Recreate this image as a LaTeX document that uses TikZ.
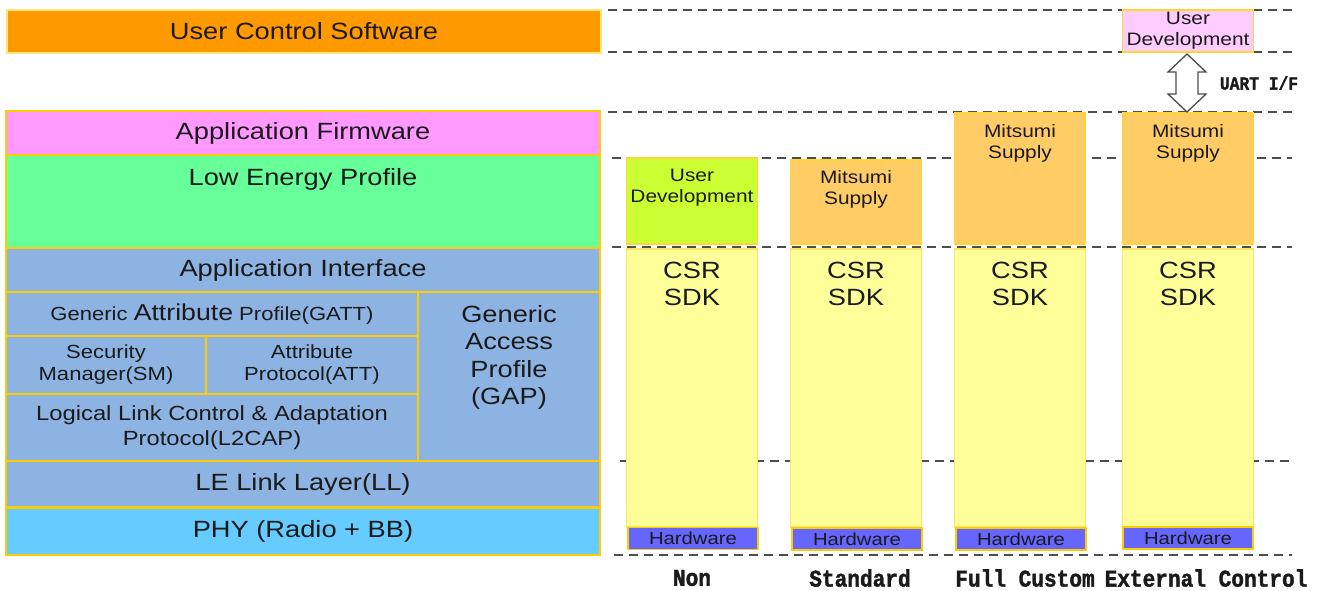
\documentclass[tikz,border=0pt]{standalone}
\usepackage{fontspec}
\setmainfont{Liberation Sans}[FakeStretch=1.16]
\newfontfamily\monob{Liberation Mono}[FakeStretch=0.88, BoldFeatures={FakeBold=1.5}]
\usetikzlibrary{calc}
\definecolor{orng}{HTML}{FF9900}
\definecolor{pinkfw}{HTML}{FF99FF}
\definecolor{grn}{HTML}{66FF99}
\definecolor{bluel}{HTML}{8DB3E2}
\definecolor{cyanl}{HTML}{66CCFF}
\definecolor{laybd}{HTML}{FFCC00}
\definecolor{lightbd}{HTML}{FFE680}
\definecolor{csry}{HTML}{FFFF99}
\definecolor{csrbd}{HTML}{FFE566}
\definecolor{mits}{HTML}{FFCC66}
\definecolor{udg}{HTML}{CCFF33}
\definecolor{hw}{HTML}{6666FF}
\definecolor{udp}{HTML}{FFCCFF}
\definecolor{dashg}{HTML}{4D4D4D}
\definecolor{txt}{HTML}{1A1A1A}
\newcommand\fbig{\fontsize{23.5}{27.5}\selectfont}
\newcommand\fsmall{\fontsize{18}{21}\selectfont}
\begin{document}
\begin{tikzpicture}[x=1pt,y=-1pt,
  every node/.style={inner sep=0pt, outer sep=0pt, text=txt},
  lay/.style={rectangle, draw=laybd, line width=1.5pt, minimum width=594pt, font=\fbig},
  subl/.style={rectangle, draw=laybd, line width=1.5pt, fill=bluel},
  colbox/.style={rectangle, draw=laybd!80!white, line width=1.3pt, minimum width=131pt},
  toptext/.style={anchor=north, align=center, font=\fsmall},
  hwbox/.style={rectangle, draw=laybd, line width=1.3pt, fill=hw, minimum width=130pt, minimum height=22pt, font=\fontsize{17.5}{20}\selectfont},
  guide/.style={draw=dashg, line width=2.4pt, dash pattern=on 9pt off 6pt},
  modelbl/.style={font=\monob\bfseries\fontsize{24}{26}\selectfont},
  dblarrow/.style={draw=dashg, line width=1.3pt, fill=white, line join=miter}]
\fill[white] (0,0) rectangle (1320,590);
\useasboundingbox (0,0) rectangle (1320,590);
% guide lines
\draw[guide] (608,10) -- (1292,10);
\draw[guide] (608,52) -- (1292,52);
\draw[guide] (608,112) -- (1292,112);
\draw[guide] (612,158) -- (1292,158);
\draw[guide] (612,247) -- (1292,247);
\draw[guide] (620,461) -- (1292,461);
\draw[guide] (614,555) -- (1292,555);
% left stack
\node[lay, fill=orng, draw=lightbd, minimum height=43pt] (ucs) at (304,31.5) {User Control Software};
\node[lay, fill=pinkfw, minimum height=44pt] (afw) at (303,133) {Application Firmware};
\node[lay, fill=grn, minimum height=93pt] (lep) at (303,201.5) {};
\node[anchor=north, font=\fbig] (lept) at ($(lep.north)+(0,13)$) {Low Energy Profile};
\node[lay, fill=bluel, minimum height=44pt] (ai) at (303,270) {Application Interface};
\node[subl, minimum width=412pt, minimum height=44pt] (gatt) at (212,314)
  {\fontsize{19}{22}\selectfont Generic {\fontsize{23}{26}\selectfont Attribute} Profile(GATT)};
\node[subl, minimum width=200pt, minimum height=58pt, align=center, font=\fontsize{19}{22}\selectfont] (sm) at (106,365) {Security\\Manager(SM)};
\node[subl, minimum width=212pt, minimum height=58pt, align=center, font=\fontsize{19}{22}\selectfont] (att) at (312,365) {Attribute\\Protocol(ATT)};
\node[subl, minimum width=412pt, minimum height=67pt, align=center, font=\fontsize{20.5}{25}\selectfont] (l2cap) at (212,427.5) {Logical Link Control \& Adaptation\\Protocol(L2CAP)};
\node[subl, minimum width=182pt, minimum height=169pt] (gap) at (509,376.5) {};
\node[anchor=north, align=center, font=\fbig] (gapt) at ($(gap.north)+(0,13)$) {Generic\\Access\\Profile\\(GAP)};
\node[lay, fill=bluel, minimum height=46pt] (ll) at (303,484) {LE Link Layer(LL)};
\node[lay, fill=cyanl, minimum height=47pt] (phy) at (303,531.5) {PHY (Radio + BB)};
% column 1: Non
\node[colbox, fill=udg, minimum height=86pt] (ud1) at (692,201) {};
\node[toptext] (ud1t) at ($(ud1.north)+(0,11)$) {User\\Development};
\node[colbox, fill=csry, draw=csrbd, minimum height=278pt] (csr1) at (692,388) {};
\node[toptext, font=\fbig] (csr1t) at ($(csr1.north)+(0,13)$) {CSR\\SDK};
\node[hwbox] (hw1) at (693,538.5) {Hardware};
% column 2: Standard
\node[colbox, fill=mits, minimum height=84pt] (ms2) at (856,202) {};
\node[toptext] (ms2t) at ($(ms2.north)+(0,10)$) {Mitsumi\\Supply};
\node[colbox, fill=csry, draw=csrbd, minimum height=278pt] (csr2) at (856,388) {};
\node[toptext, font=\fbig] (csr2t) at ($(csr2.north)+(0,13)$) {CSR\\SDK};
\node[hwbox] (hw2) at (857,539) {Hardware};
% column 3: Full Custom
\node[colbox, fill=mits, minimum height=131pt] (ms3) at (1020,178.5) {};
\node[toptext] (ms3t) at ($(ms3.north)+(0,11)$) {Mitsumi\\Supply};
\node[colbox, fill=csry, draw=csrbd, minimum height=278pt] (csr3) at (1020,388) {};
\node[toptext, font=\fbig] (csr3t) at ($(csr3.north)+(0,13)$) {CSR\\SDK};
\node[hwbox] (hw3) at (1021,539) {Hardware};
% column 4: External Control
\node[colbox, fill=udp, minimum height=42pt, align=center, font=\fsmall] (ud4) at (1188,31) {User\\Development};
\node[colbox, fill=mits, minimum height=131pt] (ms4) at (1188,178.5) {};
\node[toptext] (ms4t) at ($(ms4.north)+(0,11)$) {Mitsumi\\Supply};
\node[colbox, fill=csry, draw=csrbd, minimum height=278pt] (csr4) at (1188,388) {};
\node[toptext, font=\fbig] (csr4t) at ($(csr4.north)+(0,13)$) {CSR\\SDK};
\node[hwbox] (hw4) at (1188,538) {Hardware};
% UART double arrow between ud4 and ms4
\coordinate (AT) at ($(ud4.south)+(-1,2)$);
\coordinate (AB) at ($(ms4.north)+(-1,-1)$);
\draw[dblarrow] (AT) -- ($(AT)+(19,18)$) -- ($(AT)+(11,18)$) -- ($(AB)+(11,-18)$) -- ($(AB)+(19,-18)$)
  -- (AB) -- ($(AB)+(-19,-18)$) -- ($(AB)+(-11,-18)$) -- ($(AT)+(-11,18)$) -- ($(AT)+(-19,18)$) -- cycle;
\node[font=\monob\bfseries\fontsize{18.5}{20}\selectfont] (uart) at (1259,83) {UART I/F};
% mode labels
\node[modelbl] (m1) at (692,578) {Non};
\node[modelbl] (m2) at (860,578) {Standard};
\node[modelbl] (m3) at (1025,578) {Full Custom};
\node[modelbl] (m4) at (1206,578) {External Control};
\end{tikzpicture}
\end{document}
